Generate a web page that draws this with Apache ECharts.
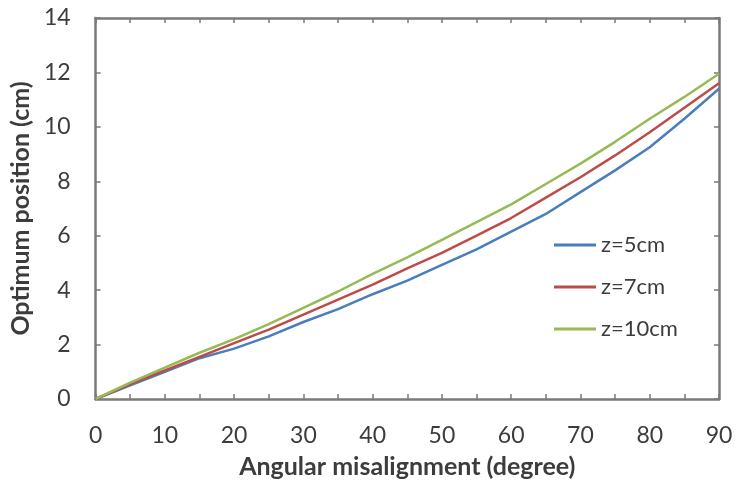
<!DOCTYPE html>
<html>
<head>
<meta charset="utf-8">
<script src="https://cdn.jsdelivr.net/npm/echarts@6/dist/echarts.min.js"></script>
<style>
  html, body { margin: 0; padding: 0; background: #fff; }
  #chart { width: 737px; height: 488px; }
</style>
</head>
<body>
<div id="chart"></div>
<script>
// Angular misalignment (degree) sample points
const angles = [0, 5, 10, 15, 20, 25, 30, 35, 40, 45, 50, 55, 60, 65, 70, 75, 80, 85, 90];

// Optimum position (cm) for each distance z
const z5cm  = [0, 0.5, 1.0, 1.5, 1.85, 2.3, 2.83, 3.3, 3.85, 4.35, 4.93, 5.5, 6.15, 6.8, 7.6, 8.4, 9.25, 10.3, 11.4];
const z7cm  = [0, 0.55, 1.05, 1.55, 2.05, 2.55, 3.1, 3.65, 4.2, 4.8, 5.37, 6.0, 6.65, 7.4, 8.15, 8.95, 9.8, 10.7, 11.6];
const z10cm = [0, 0.6, 1.15, 1.7, 2.2, 2.75, 3.35, 3.95, 4.6, 5.2, 5.85, 6.5, 7.15, 7.9, 8.65, 9.45, 10.3, 11.1, 11.95];

const seriesNames = ['z=5cm', 'z=7cm', 'z=10cm'];
const seriesColors = ['#4a7ebb', '#be4b48', '#98b954'];
const seriesValues = [z5cm, z7cm, z10cm];

const FONT = 'Lato, "Open Sans", sans-serif';
const AXIS_COLOR = '#7a7a7a';
const TEXT_COLOR = '#3c3c3c';

const frameLine = { show: true, onZero: false, lineStyle: { color: AXIS_COLOR, width: 2.5 } };
const tickStyle = { color: AXIS_COLOR, width: 1.5 };

const chart = echarts.init(document.getElementById('chart'), null, { renderer: 'canvas' });

chart.setOption({
  animation: false,
  backgroundColor: '#fff',
  grid: { left: 95, right: 18, top: 18, bottom: 89 },
  legend: {
    orient: 'vertical',
    left: 549,
    top: 229,
    itemWidth: 42,
    itemHeight: 3,
    itemGap: 20,
    icon: 'rect',
    textStyle: { fontFamily: FONT, fontSize: 22, color: TEXT_COLOR },
    data: seriesNames
  },
  xAxis: [
    {
      type: 'value', min: 0, max: 90, interval: 10,
      axisLine: frameLine,
      axisTick: { show: true, inside: true, length: 5, lineStyle: tickStyle },
      minorTick: { show: true, splitNumber: 2, length: 5, lineStyle: tickStyle },
      splitLine: { show: false },
      axisLabel: { margin: 25, fontFamily: FONT, fontSize: 23, color: TEXT_COLOR },
      name: 'Angular misalignment (degree)',
      nameLocation: 'middle',
      nameGap: 55,
      nameTextStyle: { fontFamily: FONT, fontSize: 25, fontWeight: 'bold', color: TEXT_COLOR }
    },
    {
      type: 'value', min: 0, max: 90, interval: 10, position: 'top',
      axisLine: frameLine,
      axisTick: { show: true, inside: true, length: 5, lineStyle: tickStyle },
      minorTick: { show: true, splitNumber: 2, length: 5, lineStyle: tickStyle },
      splitLine: { show: false },
      axisLabel: { show: false }
    }
  ],
  yAxis: [
    {
      type: 'value', min: 0, max: 14, interval: 2,
      axisLine: frameLine,
      axisTick: { show: true, inside: true, length: 5, lineStyle: tickStyle },
      splitLine: { show: false },
      axisLabel: { margin: 25, fontFamily: FONT, fontSize: 23, color: TEXT_COLOR },
      name: 'Optimum position (cm)',
      nameLocation: 'middle',
      nameGap: 61,
      nameTextStyle: { fontFamily: FONT, fontSize: 25, fontWeight: 'bold', color: TEXT_COLOR }
    },
    {
      type: 'value', min: 0, max: 14, interval: 2, position: 'right',
      axisLine: frameLine,
      axisTick: { show: true, inside: true, length: 5, lineStyle: tickStyle },
      splitLine: { show: false },
      axisLabel: { show: false }
    }
  ],
  series: seriesNames.map((name, i) => ({
    name: name,
    type: 'line',
    xAxisIndex: 0,
    yAxisIndex: 0,
    showSymbol: false,
    symbol: 'none',
    smooth: false,
    lineStyle: { color: seriesColors[i], width: 2.5 },
    itemStyle: { color: seriesColors[i] },
    data: angles.map((a, k) => [a, seriesValues[i][k]])
  }))
});
</script>
</body>
</html>
